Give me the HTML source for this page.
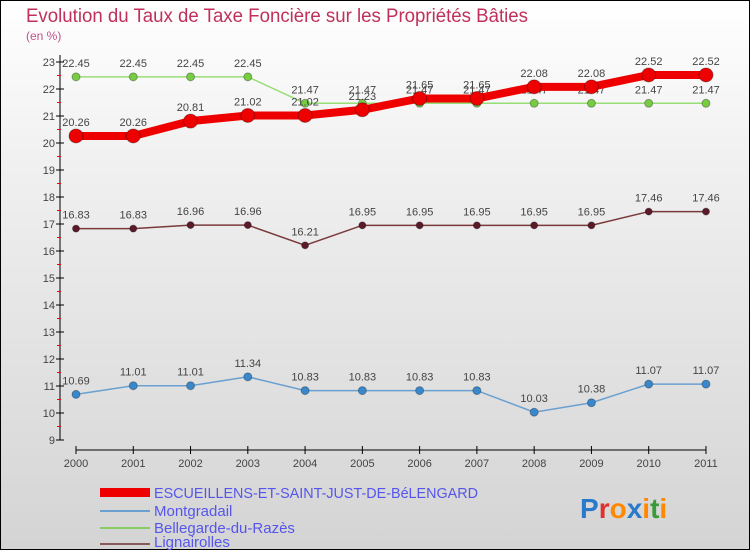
<!DOCTYPE html>
<html><head><meta charset="utf-8"><style>
body{margin:0;width:750px;height:550px;overflow:hidden}
#c{position:absolute;left:0;top:0;width:748px;height:548px;border:1px solid #000;background:linear-gradient(#fff,#f0f0f0 30%,#d4d4d4)}
text{font-family:"Liberation Sans",sans-serif}
</style></head><body>
<div id="c">
<svg id="s" width="750" height="550" style="position:absolute;left:-1px;top:-1px">
<text x="26" y="22" font-size="19" fill="#c0305a" textLength="502" lengthAdjust="spacingAndGlyphs">Evolution du Taux de Taxe Foncière sur les Propriétés Bâties</text>
<text x="26" y="40" font-size="12" fill="#c0508a">(en %)</text>
<g id="axes"></g><g id="series"></g>
<g>
<rect x="100" y="488" width="50" height="9" fill="#e00"/>
<text x="154" y="498" font-size="15" fill="#5555ee" textLength="324" lengthAdjust="spacingAndGlyphs">ESCUEILLENS-ET-SAINT-JUST-DE-BéLENGARD</text>
<rect x="100" y="510" width="50" height="2" fill="#6aa0d0"/>
<text x="154" y="516" font-size="15" fill="#5555ee">Montgradail</text>
<rect x="100" y="527" width="50" height="2" fill="#88cc66"/>
<text x="154" y="533" font-size="15" fill="#5555ee">Bellegarde-du-Razès</text>
<rect x="100" y="543" width="50" height="2" fill="#8a5a5a"/>
<text x="154" y="547" font-size="15" fill="#5555ee">Lignairolles</text>
</g>
<text x="580" y="518" font-size="28" font-weight="bold"><tspan fill="#2a7acc">P</tspan><tspan fill="#e03030">r</tspan><tspan fill="#ff8800">o</tspan><tspan fill="#2a7acc">x</tspan><tspan fill="#ff8800">i</tspan><tspan fill="#3a9a3a">t</tspan><tspan fill="#ff8800">i</tspan></text>
</svg></div>
<script>
const years=["2000","2001","2002","2003","2004","2005","2006","2007","2008","2009","2010","2011"];
const yTicks=[9,10,11,12,13,14,15,16,17,18,19,20,21,22,23];
const escueillens=[20.26,20.26,20.81,21.02,21.02,21.23,21.65,21.65,22.08,22.08,22.52,22.52];
const montgradail=[10.69,11.01,11.01,11.34,10.83,10.83,10.83,10.83,10.03,10.38,11.07,11.07];
const bellegarde=[22.45,22.45,22.45,22.45,21.47,21.47,21.47,21.47,21.47,21.47,21.47,21.47];
const lignairolles=[16.83,16.83,16.96,16.96,16.21,16.95,16.95,16.95,16.95,16.95,17.46,17.46];
const NS="http://www.w3.org/2000/svg";
const X=i=>76+i*57.27, Y=v=>440-(v-9)*27;
function mk(t,a,p){const e=document.createElementNS(NS,t);for(const k in a)e.setAttribute(k,a[k]);p.appendChild(e);return e;}
const ax=document.getElementById('axes');
const yl=mk('line',{x1:60,y1:55,x2:60,y2:440,stroke:'#000'},ax);


yTicks.forEach(v=>{
 mk('line',{x1:56,y1:Y(v),x2:64,y2:Y(v),stroke:'#000'},ax);
 if(v<23)mk('line',{x1:57,y1:Y(v+0.5),x2:61,y2:Y(v+0.5),stroke:'#e00'},ax);
 const t=mk('text',{x:55,y:Y(v)+4,'font-size':11,fill:'#444','text-anchor':'end'},ax);t.textContent=v;
 
 
});
const xl=mk('line',{x1:76,y1:450,x2:706,y2:450,stroke:'#000'},ax);


years.forEach((y,i)=>{
 mk('line',{x1:X(i),y1:446,x2:X(i),y2:454,stroke:'#000'},ax);
 const t=mk('text',{x:X(i),y:467,'font-size':11,fill:'#444','text-anchor':'middle'},ax);t.textContent=y;
 
 
});
const sg=document.getElementById('series');
function series(d,name,col,w,r,dot){
 const g=mk('g',{},sg);
 
 
 mk('polyline',{points:d.map((v,i)=>X(i)+','+Y(v)).join(' '),fill:'none',stroke:col,'stroke-width':w},g);
 d.forEach((v,i)=>{
  const c=mk('circle',{cx:X(i),cy:Y(v),r:r,fill:dot,stroke:'rgba(0,0,0,0.3)'},g);
  
  
  const t=mk('text',{x:X(i),y:Y(v)-10,'font-size':11,fill:'#444','text-anchor':'middle'},g);t.textContent=v.toFixed(2);
  
  
 });
}
series(bellegarde,'bellegarde','#99dd77',1.5,4,'#77cc44');
series(lignairolles,'lignairolles','#7a3a3a',1.5,3.5,'#5a1a2a');
series(montgradail,'montgradail','#6aa0d0',1.5,4,'#3a88cc');
series(escueillens,'escueillens','#e00',8,7,'#e00');
</script>
</body></html>
